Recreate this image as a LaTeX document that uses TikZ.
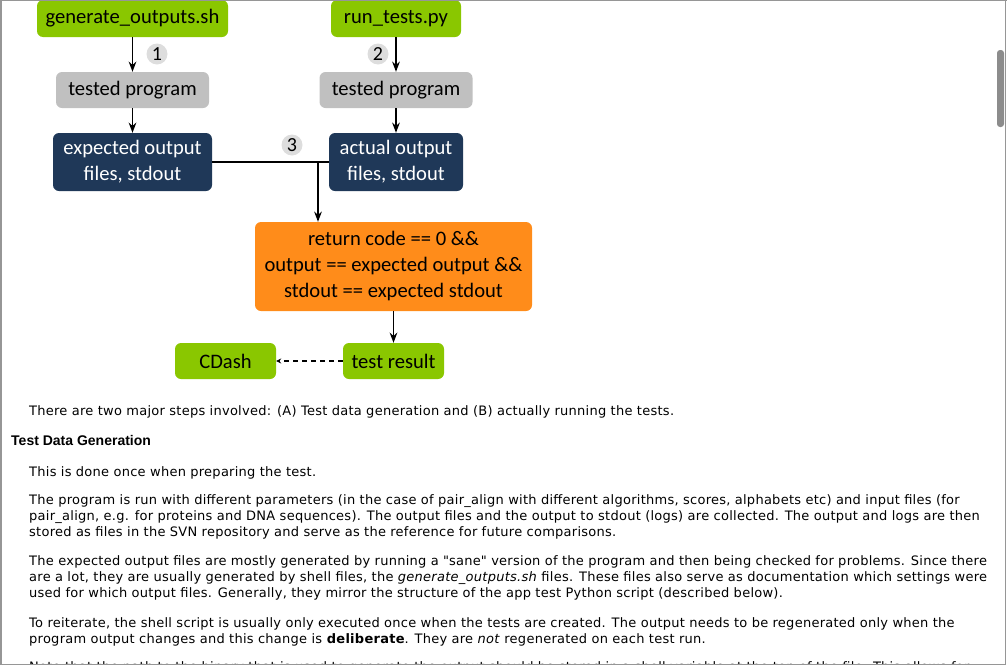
\documentclass[tikz,border=0pt]{standalone}
\usepackage{fontspec}
\setmainfont{DejaVu Sans}[LetterSpace=2]
\newfontfamily\diagfont{Carlito}
\newfontfamily\headfont{Liberation Sans}
\usetikzlibrary{arrows.meta, positioning, calc}

\definecolor{limegreen}{RGB}{138,199,0}
\definecolor{boxgray}{RGB}{192,192,192}
\definecolor{navy}{RGB}{31,56,88}
\definecolor{checkorange}{RGB}{255,140,26}
\definecolor{stepgray}{RGB}{221,221,221}
\definecolor{framegray}{RGB}{150,150,150}

\begin{document}
\begin{tikzpicture}[
  x=1pt, y=-1pt,
  >=Stealth,
  diagbox/.style={
    rounded corners=6pt, inner sep=0pt, align=center,
    font=\diagfont\fontsize{20.6}{26}\selectfont
  },
  scriptbox/.style={diagbox, fill=limegreen, minimum height=37pt},
  progbox/.style={diagbox, fill=boxgray, minimum width=153pt, minimum height=36pt},
  filebox/.style={diagbox, fill=navy, text=white, minimum height=58pt},
  checkbox/.style={diagbox, fill=checkorange, minimum width=277pt, minimum height=89pt},
  resultbox/.style={diagbox, fill=limegreen, minimum width=101pt, minimum height=36pt},
  stepnum/.style={circle, fill=stepgray, inner sep=0pt, minimum size=21pt,
    font=\diagfont\fontsize{20}{20}\selectfont},
  arr/.style={->, line width=1.6pt},
  bodytext/.style={anchor=base west, inner sep=0pt,
    font=\fontsize{13}{15}\selectfont},
  headtext/.style={anchor=base west, inner sep=0pt,
    font=\headfont\bfseries\fontsize{14}{16}\selectfont}
]
\useasboundingbox (0,0) rectangle (1007,667);

% scripts
\node[scriptbox, minimum width=191pt] (genout) at (132.5, 18.5) {generate\_outputs.sh};
\node[scriptbox, minimum width=130pt] (runtests) at (396, 18.5) {run\_tests.py};

% tested programs
\node[progbox] (progA) at (132.5, 90) {tested program};
\node[progbox] (progB) at (396, 90) {tested program};

% output files
\node[filebox, minimum width=159pt] (expected) at (132.5, 162) {expected output\\files, stdout};
\node[filebox, minimum width=134pt] (actual) at (396, 162) {actual output\\files, stdout};

% comparison
\node[checkbox] (check) at (393.5, 266.5) {return code == 0 \&\&\\output == expected output \&\&\\stdout == expected stdout};

% results
\node[resultbox] (result) at (393.5, 361) {test result};
\node[resultbox] (cdash) at (225.5, 361) {CDash};

% step numbers
\node[stepnum] (stepA) at (157, 54) {1};
\node[stepnum] (stepB) at (378, 54) {2};
\node[stepnum] (stepC) at (292, 145) {3};

\draw[arr] (genout) -- (progA);
\draw[arr] (progA) -- (expected);
\draw[arr] (runtests) -- (progB);
\draw[arr] (progB) -- (actual);
\draw[line width=1.6pt] (expected.east) -- (actual.west);
\coordinate (junction) at (318, 162);
\draw[arr] (junction) -- (junction |- check.north);
\draw[arr] (check.south -| result) -- (result);
\draw[->, line width=1.6pt, dashed, dash pattern=on 5pt off 4pt, >={Stealth[length=5pt,width=5pt]}] (result) -- (cdash);

% page text
\begin{scope}
\clip (0,0) rectangle (1005,664);
\node[bodytext] (intro) at (29, 415) {There are two major steps involved: (A) Test data generation and (B) actually running the tests.};
\node[headtext] (heading) at (11, 445) {Test Data Generation};
\node[bodytext] (once) at (29, 476) {This is done once when preparing the test.};
\node[bodytext] (runA) at (29, 504) {The program is run with different parameters (in the case of pair\_align with different algorithms, scores, alphabets etc) and input files (for};
\node[bodytext] (runB) at (29, 520) {pair\_align, e.g. for proteins and DNA sequences). The output files and the output to stdout (logs) are collected. The output and logs are then};
\node[bodytext] (runC) at (29, 536) {stored as files in the SVN repository and serve as the reference for future comparisons.};
\node[bodytext] (saneA) at (29, 565) {The expected output files are mostly generated by running a \textquotedbl sane\textquotedbl{} version of the program and then being checked for problems. Since there};
\node[bodytext] (saneB) at (29, 581) {are a lot, they are usually generated by shell files, the \textit{generate\_outputs.sh} files. These files also serve as documentation which settings were};
\node[bodytext] (saneC) at (29, 597) {used for which output files. Generally, they mirror the structure of the app test Python script (described below).};
\node[bodytext] (reitA) at (29, 627) {To reiterate, the shell script is usually only executed once when the tests are created. The output needs to be regenerated only when the};
\node[bodytext] (reitB) at (29, 643) {program output changes and this change is \textbf{deliberate}. They are \textit{not} regenerated on each test run.};
\node[bodytext] (noteA) at (29, 671) {Note that the path to the binary that is used to generate the output should be stored in a shell variable at the top of the file. This allows for};
\end{scope}

% window frame and scrollbar
\draw[framegray, line width=1.5pt] (0.75,0) -- (0.75,664.25) -- (1005.25,664.25) -- (1005.25,0);
\draw[framegray, line width=1pt] (0,0.5) -- (1007,0.5);
\fill[gray!90, rounded corners=3pt] (997,50) rectangle (1004,127);
\end{tikzpicture}
\end{document}
